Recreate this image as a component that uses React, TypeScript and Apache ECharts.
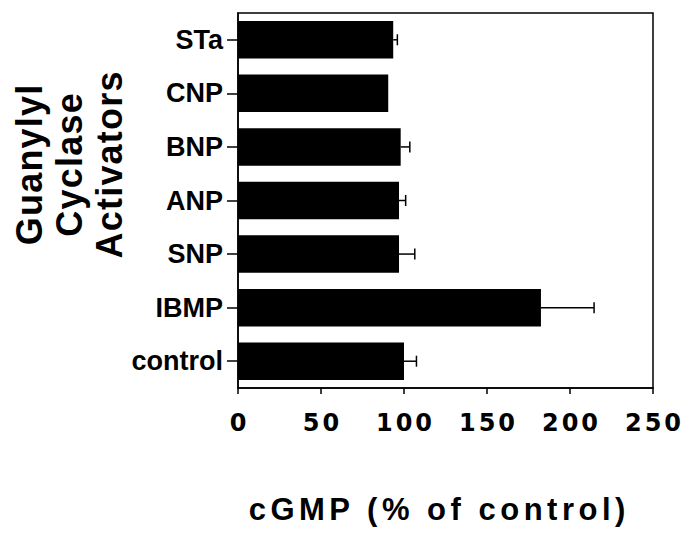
import React, { useEffect, useRef } from "react";
import * as echarts from "echarts";

// Categories listed bottom-to-top as on the chart's y axis
const categories = ["control", "IBMP", "SNP", "ANP", "BNP", "CNP", "STa"];
const means = [100, 182.5, 97, 97, 98, 90.5, 93.5];
const errors = [7.5, 32, 9.5, 4, 5.5, 0, 2.5];
const xTicks = { min: 0, max: 250, interval: 50 };
const xTitle = "cGMP (% of control)";
const yTitle = "Guanylyl\nCyclase\nActivators";

const SANS = "Liberation Sans";
const WIDE = "DejaVu Sans";

// extra letter spacing by font size (px), as in the original typesetting
const spacingBySize: Record<number, number> = { 24: 3, 31: 4.5, 36: 1.2 };

export default function App() {
  const ref = useRef<HTMLDivElement>(null);

  useEffect(() => {
    if (!ref.current) return;
    const chart = echarts.init(ref.current, undefined, { renderer: "svg" });

    const errData = categories.map((_, i) => [i, means[i], errors[i]]);

    chart.setOption({
      animation: false,
      backgroundColor: "#fff",
      grid: {
        left: 238,
        right: 30,
        top: 13,
        bottom: 153,
        show: true,
        borderColor: "#000",
        borderWidth: 1.5,
        backgroundColor: "transparent",
      },
      xAxis: {
        type: "value",
        min: xTicks.min,
        max: xTicks.max,
        interval: xTicks.interval,
        splitLine: { show: false },
        axisLine: { show: true, lineStyle: { color: "#000", width: 1.5 } },
        axisTick: { show: true, inside: false, length: 6, lineStyle: { color: "#000", width: 1.5 } },
        axisLabel: {
          color: "#000",
          fontFamily: WIDE,
          fontWeight: "bold",
          fontSize: 24,
          margin: 23,
        },
      },
      yAxis: {
        type: "category",
        data: categories,
        axisLine: { show: true, lineStyle: { color: "#000", width: 1.5 } },
        axisTick: { show: true, alignWithLabel: true, length: 11, lineStyle: { color: "#000", width: 1.5 } },
        axisLabel: {
          color: "#000",
          fontFamily: SANS,
          fontWeight: "bold",
          fontSize: 27,
          margin: 15,
        },
      },
      graphic: [
        {
          type: "text",
          x: 69,
          y: 165,
          rotation: Math.PI / 2,
          style: {
            text: yTitle,
            fill: "#000",
            font: `bold 36px "${SANS}"`,
            align: "center",
            verticalAlign: "middle",
            lineHeight: 40,
          },
        },
        {
          type: "text",
          x: 437,
          y: 509,
          style: {
            text: xTitle,
            fill: "#000",
            font: `bold 31px "${SANS}"`,
            align: "center",
            verticalAlign: "middle",
          },
        },
      ],
      series: [
        {
          type: "bar",
          data: means,
          barCategoryGap: "30%",
          itemStyle: { color: "#000" },
          z: 2,
        },
        {
          type: "custom",
          data: errData,
          encode: { x: 1, y: 0 },
          z: 3,
          renderItem: (params: any, api: any) => {
            const cat = api.value(0);
            const v = api.value(1);
            const e = api.value(2);
            if (!e) return { type: "group", children: [] };
            const s = api.coord([v, cat]);
            const t = api.coord([v + e, cat]);
            const h = 5.5;
            return {
              type: "group",
              children: [
                {
                  type: "line",
                  shape: { x1: s[0], y1: s[1], x2: t[0], y2: t[1] },
                  style: { stroke: "#000", lineWidth: 1.5 },
                },
                {
                  type: "line",
                  shape: { x1: t[0], y1: t[1] - h, x2: t[0], y2: t[1] + h },
                  style: { stroke: "#000", lineWidth: 1.5 },
                },
              ],
            };
          },
        },
      ],
    });

    const svg = ref.current.querySelector("svg");
    if (svg) {
      svg.querySelectorAll("text").forEach((t) => {
        const fs = Math.round(parseFloat(getComputedStyle(t).fontSize));
        const ls = spacingBySize[fs] || 0;
        if (!ls) return;
        t.setAttribute("letter-spacing", String(ls));
        const anchor = t.getAttribute("text-anchor") || "start";
        const dx = anchor === "middle" ? ls / 2 : anchor === "end" ? ls : 0;
        if (dx) t.setAttribute("dx", String(dx));
      });
    }

    return () => {
      chart.dispose();
    };
  }, []);

  return (
    <div
      ref={ref}
      style={{ position: "absolute", left: 0, top: 0, width: 683, height: 541 }}
    />
  );
}
